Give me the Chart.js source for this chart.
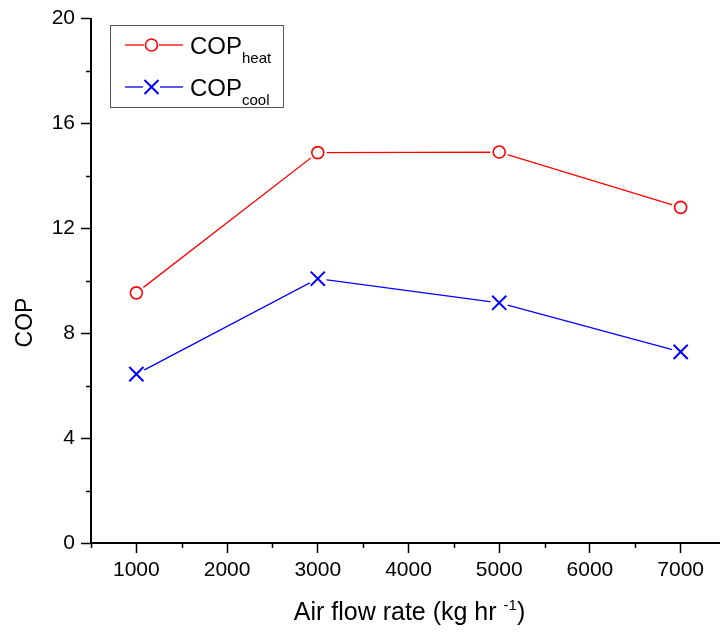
<!DOCTYPE html>
<html>
<head>
<meta charset="utf-8">
<script src="https://cdn.jsdelivr.net/npm/chart.js"></script>
<style>
  html, body { margin: 0; padding: 0; background: #fff; overflow: hidden; }
  #wrap { position: relative; width: 726px; height: 632px; }
  #overlay { position: absolute; left: 0; top: 0; pointer-events: none; }
</style>
</head>
<body>
<div id="wrap">
  <canvas id="cop-chart"></canvas>
  <svg id="overlay" width="720" height="632" font-family="Liberation Sans, Arial, sans-serif">
    <!-- axis titles -->
    <text x="0" y="0" font-size="23" text-anchor="middle" transform="translate(32 322.5) rotate(-90)">COP</text>
    <text x="409.5" y="620" font-size="25" text-anchor="middle">Air flow rate (kg hr <tspan font-size="15" dy="-10">-1</tspan><tspan dy="10">)</tspan></text>
    <!-- legend -->
    <rect x="110.5" y="25.5" width="173" height="82" fill="#fff" stroke="#555" stroke-width="1"/>
    <line x1="125" y1="45" x2="144" y2="45" stroke="#ff0000" stroke-width="1.3"/>
    <line x1="159" y1="45" x2="183" y2="45" stroke="#ff0000" stroke-width="1.3"/>
    <circle cx="151.5" cy="45" r="6" fill="#fff" stroke="#ff0000" stroke-width="1.6"/>
    <text x="190" y="53.5" font-size="24">COP<tspan font-size="15" dy="9">heat</tspan></text>
    <line x1="125" y1="87" x2="143" y2="87" stroke="#0000ff" stroke-width="1.3"/>
    <line x1="160" y1="87" x2="183" y2="87" stroke="#0000ff" stroke-width="1.3"/>
    <path d="M144.5 80 L158.5 94 M158.5 80 L144.5 94" stroke="#0000ff" stroke-width="2" fill="none"/>
    <text x="190" y="95.5" font-size="24">COP<tspan font-size="15" dy="9">cool</tspan></text>
  </svg>
</div>
<script>
// values
const airFlow = [1000, 3000, 5000, 7000];
const copHeat = [9.54, 14.89, 14.91, 12.80];
const copCool = [6.44, 10.08, 9.16, 7.29];

const fontFamily = "'Liberation Sans', Arial, sans-serif";

function points(values) {
    return airFlow.map((x, i) => ({ x: x, y: values[i] }));
}

// short ticks for the unlabelled steps (labelled ones use the normal tick marks)
const minorTicks = {
    id: 'minorTicks',
    afterDraw(chart) {
        const ctx = chart.ctx;
        const xs = chart.scales.x;
        const ys = chart.scales.y;
        ctx.save();
        ctx.strokeStyle = '#000';
        ctx.lineWidth = 1.5;
        ctx.beginPath();
        xs.ticks.forEach(t => {
            if (t.value % 1000 !== 0) {
                const px = Math.round(xs.getPixelForValue(t.value)) + 0.5;
                ctx.moveTo(px, xs.top);
                ctx.lineTo(px, xs.top + 5);
            }
        });
        ys.ticks.forEach(t => {
            if (t.value % 4 !== 0) {
                const py = Math.round(ys.getPixelForValue(t.value)) + 0.5;
                ctx.moveTo(ys.right, py);
                ctx.lineTo(ys.right - 5, py);
            }
        });
        ctx.stroke();
        ctx.restore();
    }
};

const ctx = document.getElementById('cop-chart').getContext('2d');
new Chart(ctx, {
    type: 'line',
    data: {
        datasets: [
            // lines
            { data: points(copHeat), borderColor: '#ff0000', borderWidth: 1.3, pointRadius: 0, order: 3 },
            { data: points(copCool), borderColor: '#0000ff', borderWidth: 1.3, pointRadius: 0, order: 3 },
            // white gaps around the markers
            { data: points(copHeat), showLine: false, pointRadius: 9, pointBackgroundColor: '#fff', pointBorderColor: '#fff', pointBorderWidth: 0, order: 2 },
            { data: points(copCool), showLine: false, pointRadius: 9, pointBackgroundColor: '#fff', pointBorderColor: '#fff', pointBorderWidth: 0, order: 2 },
            // markers
            { data: points(copHeat), showLine: false, pointStyle: 'circle', pointRadius: 6, pointBackgroundColor: '#fff', pointBorderColor: '#ff0000', pointBorderWidth: 1.6, order: 1 },
            { data: points(copCool), showLine: false, pointStyle: 'crossRot', pointRadius: 10, pointBorderColor: '#0000ff', pointBorderWidth: 2, order: 1 }
        ]
    },
    options: {
        responsive: true,
        maintainAspectRatio: false,
        animation: false,
        layout: { autoPadding: false, padding: { top: 16, left: 0, right: 0, bottom: 0 } },
        plugins: {
            legend: { display: false },
            tooltip: { enabled: false }
        },
        scales: {
            x: {
                type: 'linear',
                min: 500,
                max: 7500,
                afterFit: (scale) => {
                    scale.height = 89;
                    scale.paddingLeft = 0;
                    scale.paddingRight = 0;
                },
                border: { display: true, color: '#000', width: 2 },
                grid: {
                    drawOnChartArea: false,
                    drawTicks: true,
                    tickLength: 10,
                    tickWidth: 1.5,
                    tickColor: (c) => (c.tick && c.tick.value % 1000 === 0) ? '#000' : 'rgba(0,0,0,0)'
                },
                ticks: {
                    stepSize: 500,
                    autoSkip: false,
                    maxRotation: 0,
                    padding: 5,
                    color: '#000',
                    font: { family: fontFamily, size: 21 },
                    callback: (v) => v % 1000 === 0 ? String(v) : ''
                },
                title: { display: false }
            },
            y: {
                min: 0,
                max: 20,
                afterFit: (scale) => { scale.width = 91; },
                border: { display: true, color: '#000', width: 2 },
                grid: {
                    drawOnChartArea: false,
                    drawTicks: true,
                    tickLength: 10,
                    tickWidth: 1.5,
                    tickColor: (c) => (c.tick && c.tick.value % 4 === 0) ? '#000' : 'rgba(0,0,0,0)'
                },
                ticks: {
                    stepSize: 2,
                    autoSkip: false,
                    padding: 6,
                    color: '#000',
                    font: { family: fontFamily, size: 21 },
                    callback: (v) => v % 4 === 0 ? String(v) : ''
                },
                title: { display: false }
            }
        }
    },
    plugins: [minorTicks]
});
</script>
</body>
</html>
